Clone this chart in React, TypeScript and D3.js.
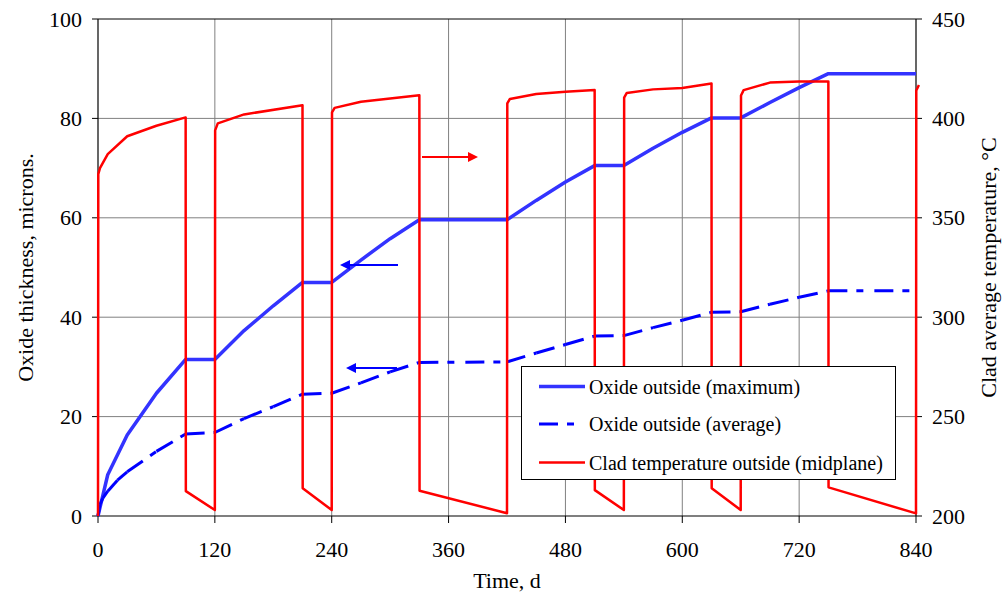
import React from "react";
import * as d3 from "d3";

const W = 1005;
const H = 599;

// X axis ticks (days)
const xTicks = [0, 120, 240, 360, 480, 600, 720, 840];
const yLeftTicks = [0, 20, 40, 60, 80, 100];
const yRightTicks = [200, 250, 300, 350, 400, 450];

// Oxide outside (maximum), microns
const maxDays = [0, 10, 30, 60, 90, 120, 150, 180, 210, 240, 270, 300, 330, 420, 450, 480, 510, 540, 570, 600, 630, 660, 690, 720, 750, 840];
const maxVals = [0, 8.3, 16.3, 24.7, 31.5, 31.5, 37.3, 42.3, 47, 47, 51.5, 55.8, 59.6, 59.6, 63.5, 67.2, 70.5, 70.5, 74, 77.2, 80.1, 80.1, 83.2, 86.2, 89, 89];

// Oxide outside (average), microns
const avgDays = [0, 2, 5, 10, 20, 30, 60, 90, 120, 150, 180, 210, 240, 270, 300, 330, 420, 450, 480, 510, 540, 570, 600, 630, 660, 690, 720, 750, 840];
const avgVals = [0, 2.3, 3.6, 5, 7.2, 8.9, 13, 16.5, 16.8, 19.6, 22, 24.5, 24.7, 26.8, 29, 30.9, 31, 32.8, 34.5, 36.2, 36.3, 37.9, 39.4, 41, 41.1, 42.6, 44, 45.3, 45.3];

// Clad temperature outside (midplane), °C
const tempDays = [0, 0.3, 2, 10, 30, 60, 90, 90.2, 120, 120.3, 123, 150, 210, 210.2, 240, 240.3, 243, 270, 330, 330.2, 420, 420.3, 423, 450, 480, 510, 510.2, 540, 540.3, 543, 570, 600, 630, 630.2, 660, 660.3, 663, 690, 720, 750, 750.2, 840, 840.3, 843];
const tempVals = [200, 372, 375, 382, 391, 396.3, 400.5, 212.5, 203, 394, 397.5, 402, 406.6, 214, 203, 403, 405.3, 408.4, 411.6, 212.7, 201.4, 407.5, 409.8, 412.3, 413.4, 414.3, 213, 203, 410.5, 412.8, 414.6, 415.3, 417.6, 214, 203, 411.5, 414.2, 418, 418.5, 418.5, 214.4, 201.3, 414, 416.8];

const legendLabels = [
  "Oxide outside (maximum)",
  "Oxide outside (average)",
  "Clad temperature outside (midplane)",
];

const FONT = "'Liberation Serif', 'Times New Roman', serif";
const AVG_DASH = "19,9,7,11";

export default function App() {
  const left = 98, right = 916, top = 19, bottom = 516;
  const x = d3.scaleLinear().domain([0, 840]).range([left, right]);
  const yL = d3.scaleLinear().domain([0, 100]).range([bottom, top]);
  const yR = d3.scaleLinear().domain([200, 450]).range([bottom, top]);

  const maxLine = d3.line<number>().x((d, i) => x(maxDays[i])).y((d) => yL(d));
  const tempLine = d3.line<number>().x((d, i) => x(tempDays[i])).y((d) => yR(d));

  const avgSegs = avgVals.slice(1).map((v, i) => ({
    x1: x(avgDays[i]), y1: yL(avgVals[i]), x2: x(avgDays[i + 1]), y2: yL(v),
  }));

  const grid = "#808080";

  const arrow = (x1: number, x2: number, y: number, color: string) => {
    const dir = x2 > x1 ? 1 : -1;
    const hl = 10, hw = 5;
    return (
      <g>
        <line x1={x1} y1={y} x2={x2 - dir * hl * 0.6} y2={y} stroke={color} strokeWidth={2} />
        <path d={`M${x2},${y} L${x2 - dir * hl},${y - hw} L${x2 - dir * hl},${y + hw} Z`} fill={color} />
      </g>
    );
  };

  // legend geometry
  const lgX = 521.5, lgY = 366.5, lgW = 374, lgH = 113;
  const rows = [386.5, 424, 462.5];

  return (
    <svg width={W} height={H} style={{ position: "absolute", left: 0, top: 0, background: "#fff" }} fontFamily={FONT}>
      <rect x={0} y={0} width={W} height={H} fill="#fff" />
      {/* gridlines */}
      {xTicks.slice(1, -1).map((t) => (
        <line key={"gx" + t} x1={x(t)} x2={x(t)} y1={top} y2={bottom} stroke={grid} strokeWidth={1} />
      ))}
      {yLeftTicks.slice(1, -1).map((t) => (
        <line key={"gy" + t} x1={left} x2={right} y1={yL(t)} y2={yL(t)} stroke={grid} strokeWidth={1} />
      ))}
      {/* frame */}
      <line x1={left} x2={right} y1={top} y2={top} stroke="#000" strokeWidth={1} />
      <line x1={left} x2={left} y1={top} y2={bottom} stroke="#000" strokeWidth={1.2} />
      <line x1={right} x2={right} y1={top} y2={bottom} stroke="#000" strokeWidth={1.2} />
      <line x1={left} x2={right} y1={bottom} y2={bottom} stroke="#000" strokeWidth={1.2} />
      {/* ticks */}
      {yLeftTicks.map((t) => (
        <g key={"yl" + t}>
          <line x1={left - 6} x2={left} y1={yL(t)} y2={yL(t)} stroke="#000" />
          <text x={82} y={yL(t) + 7.5} fontSize={22} textAnchor="end" fill="#000">{t}</text>
        </g>
      ))}
      {yRightTicks.map((t) => (
        <g key={"yr" + t}>
          <line x1={right} x2={right + 6} y1={yR(t)} y2={yR(t)} stroke="#000" />
          <text x={932} y={yR(t) + 7.5} fontSize={22} textAnchor="start" fill="#000">{t}</text>
        </g>
      ))}
      {xTicks.map((t) => (
        <g key={"xt" + t}>
          <line x1={x(t)} x2={x(t)} y1={bottom} y2={bottom + 7} stroke="#000" />
          <text x={x(t)} y={557} fontSize={22} textAnchor="middle" fill="#000">{t}</text>
        </g>
      ))}
      {/* axis titles */}
      <text x={507} y={588} fontSize={22} textAnchor="middle" fill="#000">Time, d</text>
      <text transform={`translate(33,${(top + bottom) / 2}) rotate(-90)`} fontSize={22} textAnchor="middle" fill="#000">Oxide thickness, microns.</text>
      <text transform={`translate(996,${(top + bottom) / 2}) rotate(-90)`} fontSize={22} textAnchor="middle" fill="#000">Clad average temperature, °C</text>

      {/* series */}
      <path d={maxLine(maxVals) || ""} fill="none" stroke="#3333FF" strokeWidth={3.5} strokeLinejoin="round" />
      {avgSegs.map((s, i) => (
        <line key={"a" + i} x1={s.x1} y1={s.y1} x2={s.x2} y2={s.y2} stroke="#0000FF" strokeWidth={3} strokeDasharray={AVG_DASH} />
      ))}
      <path d={tempLine(tempVals) || ""} fill="none" stroke="#FF0000" strokeWidth={2.5} strokeLinejoin="round" />

      {/* arrows */}
      {arrow(422, 478, 157, "#FF0000")}
      {arrow(398, 340, 265, "#0000FF")}
      {arrow(397, 346, 368, "#0000FF")}

      {/* legend */}
      <rect x={lgX} y={lgY} width={lgW} height={lgH} fill="#fff" stroke="#000" strokeWidth={1} />
      <line x1={539} x2={585} y1={rows[0]} y2={rows[0]} stroke="#3333FF" strokeWidth={3.5} />
      <line x1={539} x2={585} y1={rows[1]} y2={rows[1]} stroke="#0000FF" strokeWidth={3} strokeDasharray={AVG_DASH} />
      <line x1={539} x2={585} y1={rows[2]} y2={rows[2]} stroke="#FF0000" strokeWidth={2.5} />
      {legendLabels.map((l, i) => (
        <text key={l} x={589} y={rows[i] + 7} fontSize={20} fill="#000">{l}</text>
      ))}
    </svg>
  );
}
